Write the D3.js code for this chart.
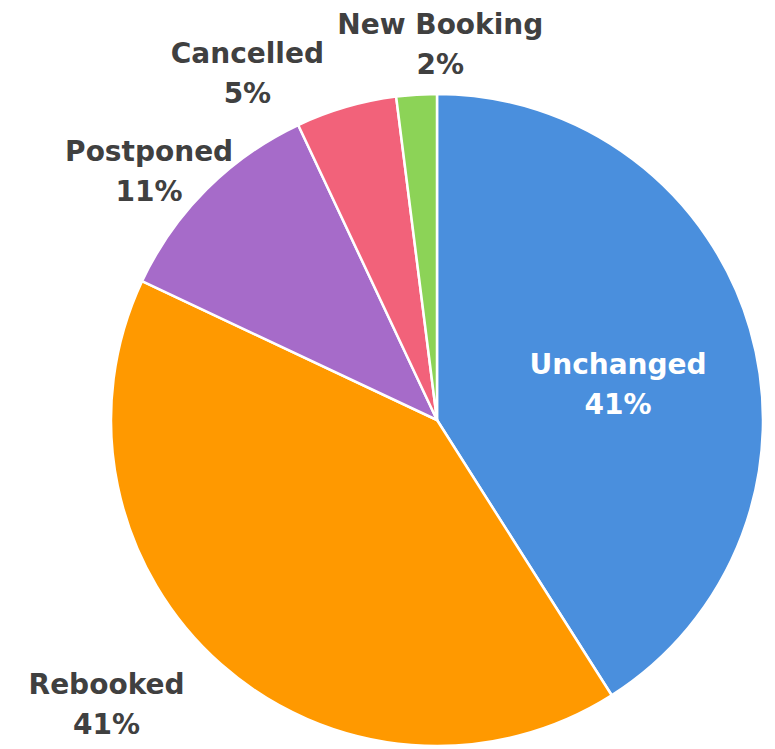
<!DOCTYPE html>
<html>
<head>
<meta charset="utf-8">
<script src="https://cdn.jsdelivr.net/npm/d3@7"></script>
<style>
  html, body { margin: 0; padding: 0; background: #fff; }
</style>
</head>
<body>
<div id="chart"></div>
<script>
// chart data
var categories = ["Unchanged", "Rebooked", "Postponed", "Cancelled", "New Booking"];
var shares = [41, 41, 11, 5, 2];
var colors = ["#4a8fdd", "#ff9900", "#a66bc9", "#f2627a", "#8cd357"];

// label layout: angle nudge (deg) and radius factor for each slice label
var labelNudge = [4.6, 8, -4, -12.4, 4.1];
var labelRadius = [0.567, 1.335, 1.17, 1.215, 1.155];

var w = 775, h = 749;
var cx = 437, cy = 420, r = 326;

var svg = d3.select("#chart").append("svg")
    .attr("width", w)
    .attr("height", h);

var pie = d3.pie().sort(null).value(function(d) { return d; });
var arcs = pie(shares);

var arc = d3.arc().innerRadius(0).outerRadius(r);

var g = svg.append("g").attr("transform", "translate(" + cx + "," + cy + ")");

g.selectAll("path")
    .data(arcs)
    .enter()
    .append("path")
    .attr("d", arc)
    .attr("fill", function(d, i) { return colors[i]; })
    .attr("stroke", "#fff")
    .attr("stroke-width", 2.5)
    .attr("stroke-linejoin", "round");

// labels
var lab = g.selectAll("g.lab")
    .data(arcs)
    .enter()
    .append("g")
    .attr("class", "lab")
    .attr("transform", function(d, i) {
        var a = (d.startAngle + d.endAngle) / 2 + labelNudge[i] * Math.PI / 180;
        var rr = r * labelRadius[i];
        return "translate(" + (Math.sin(a) * rr) + "," + (-Math.cos(a) * rr) + ")";
    });

lab.append("text")
    .attr("text-anchor", "middle")
    .attr("y", -9)
    .attr("font-family", "DejaVu Sans, sans-serif")
    .attr("font-weight", 700)
    .attr("font-size", "28px")
    .attr("fill", function(d, i) { return i == 0 ? "#fff" : "#404040"; })
    .text(function(d, i) { return categories[i]; });

lab.append("text")
    .attr("text-anchor", "middle")
    .attr("y", 31)
    .attr("font-family", "DejaVu Sans, sans-serif")
    .attr("font-weight", 700)
    .attr("font-size", "28px")
    .attr("fill", function(d, i) { return i == 0 ? "#fff" : "#404040"; })
    .text(function(d) { return d.data + "%"; });
</script>
</body>
</html>
